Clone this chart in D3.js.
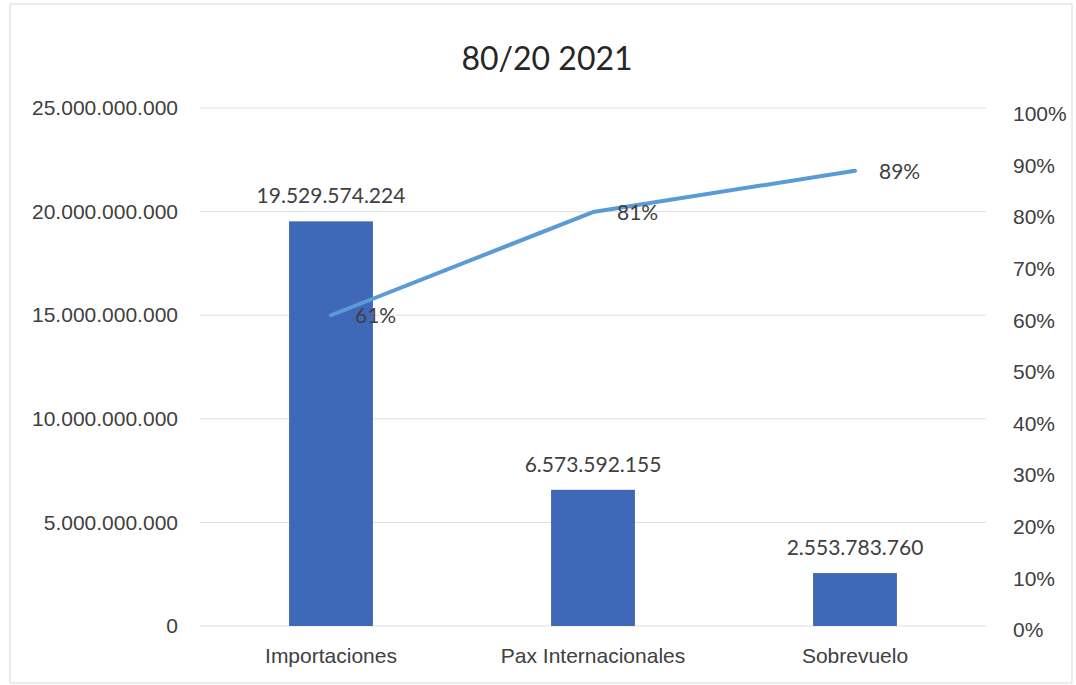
<!DOCTYPE html>
<html>
<head>
<meta charset="utf-8">
<script src="https://cdn.jsdelivr.net/npm/d3@7"></script>
<style>
  body { margin: 0; background: #fff; }
  svg { font-family: Lato, "Open Sans", sans-serif; }
</style>
</head>
<body>
<div id="chart"></div>
<script>
var categories = ['Importaciones', 'Pax Internacionales', 'Sobrevuelo']
var amounts = [19529574224, 6573592155, 2553783760]
var cumulative = [0.61, 0.81, 0.89]
var leftTicks = [0, 5e9, 10e9, 15e9, 20e9, 25e9]
var rightTicks = [0, 0.1, 0.2, 0.3, 0.4, 0.5, 0.6, 0.7, 0.8, 0.9, 1]

var width = 1076, height = 685
var margin = {top: 108, right: 90, bottom: 59, left: 200}
var textColor = '#404040'
var fontSize = '21px'

var locale = d3.formatLocale({decimal: ',', thousands: '.', grouping: [3], currency: ['', '']})
var fmt = locale.format(',d')
var pct = d3.format('.0%')

var svg = d3.select('#chart').append('svg')
  .attr('width', width)
  .attr('height', height)

svg.append('rect')
  .attr('x', 10).attr('y', 4)
  .attr('width', width - 14).attr('height', height - 6)
  .attr('fill', 'none')
  .attr('stroke', '#d9d9d9')

var x = d3.scaleBand()
  .domain(categories)
  .range([margin.left, width - margin.right])
  .paddingInner(0.68)
  .paddingOuter(0.34)

var y = d3.scaleLinear().domain([0, 25e9]).range([height - margin.bottom, margin.top])
var y2 = d3.scaleLinear().domain([0, 1]).range([630, 114])

// gridlines
svg.append('g')
  .selectAll('line')
  .data(leftTicks)
  .join('line')
  .attr('x1', margin.left)
  .attr('x2', width - margin.right)
  .attr('y1', d => y(d))
  .attr('y2', d => y(d))
  .attr('stroke', '#dedede')
  .attr('stroke-width', 1)

// left axis
var yAxis = d3.axisLeft(y).tickValues(leftTicks).tickFormat(fmt).tickSize(0).tickPadding(22)
svg.append('g')
  .attr('transform', 'translate(' + margin.left + ',0)')
  .call(yAxis)
  .call(g => g.select('.domain').remove())
  .call(g => g.selectAll('text').attr('fill', textColor).style('font-size', fontSize))

// right axis
var yAxis2 = d3.axisRight(y2).tickValues(rightTicks).tickFormat(pct).tickSize(0).tickPadding(27)
svg.append('g')
  .attr('transform', 'translate(' + (width - margin.right) + ',0)')
  .call(yAxis2)
  .call(g => g.select('.domain').remove())
  .call(g => g.selectAll('text').attr('fill', textColor).style('font-size', fontSize))

// x axis
var xAxis = d3.axisBottom(x).tickSize(0).tickPadding(22)
svg.append('g')
  .attr('transform', 'translate(0,' + y(0) + ')')
  .call(xAxis)
  .call(g => g.select('.domain').remove())
  .call(g => g.selectAll('text').attr('fill', textColor).style('font-size', fontSize))

// bars
svg.append('g')
  .selectAll('rect')
  .data(amounts)
  .join('rect')
  .attr('x', (d, i) => x(categories[i]))
  .attr('y', d => y(d))
  .attr('width', x.bandwidth())
  .attr('height', d => y(0) - y(d))
  .attr('fill', '#4068b8')

svg.append('g')
  .selectAll('text')
  .data(amounts)
  .join('text')
  .attr('x', (d, i) => x(categories[i]) + x.bandwidth() / 2)
  .attr('y', d => y(d) - 18)
  .attr('text-anchor', 'middle')
  .attr('fill', textColor)
  .style('font-size', fontSize)
  .text(d => fmt(d))

// cumulative line
var line = d3.line()
  .x((d, i) => x(categories[i]) + x.bandwidth() / 2)
  .y(d => y2(d))

svg.append('path')
  .datum(cumulative)
  .attr('d', line)
  .attr('fill', 'none')
  .attr('stroke', '#5b9bd5')
  .attr('stroke-width', 4)
  .attr('stroke-linecap', 'round')
  .attr('stroke-linejoin', 'round')

svg.append('g')
  .selectAll('text')
  .data(cumulative)
  .join('text')
  .attr('x', (d, i) => x(categories[i]) + x.bandwidth() / 2 + 24)
  .attr('y', d => y2(d) + 8)
  .attr('fill', textColor)
  .style('font-size', fontSize)
  .text(d => pct(d))

// title
svg.append('text')
  .attr('x', 547)
  .attr('y', 70)
  .attr('text-anchor', 'middle')
  .attr('fill', '#262626')
  .style('font-size', '32px')
  .text('80/20 2021')
</script>
</body>
</html>
